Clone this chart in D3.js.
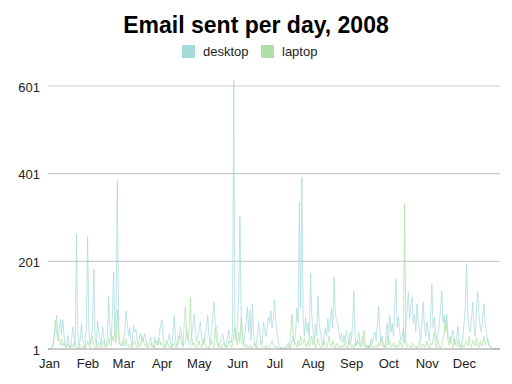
<!DOCTYPE html>
<html>
<head>
<meta charset="utf-8">
<script src="https://cdn.jsdelivr.net/npm/d3@7"></script>
<style>
  body { margin: 0; background: #fff; }
</style>
</head>
<body>
<div id="chart"></div>
<script>
// emails sent per day in 2008, one value per day (Jan 1 .. Dec 31)
var desktop = [
  // Jan
  2, 1, 3, 2, 8, 30, 67, 40, 20, 45, 69, 35, 68, 30, 10, 5, 32, 12, 3, 20, 51, 30, 10, 263, 40, 8, 20, 59, 25, 10, 3,
  // Feb
  60, 257, 40, 12, 30, 50, 184, 30, 8, 65, 40, 20, 10, 52, 35, 8, 5, 30, 120, 50, 20, 80, 177, 40, 90, 385, 50, 15, 10,
  // Mar
  8, 25, 40, 88, 60, 30, 50, 20, 8, 55, 40, 47, 20, 10, 5, 15, 30, 20, 35, 25, 8, 12, 18, 28, 10, 5, 28, 15, 20, 10, 40,
  // Apr
  55, 67, 30, 10, 5, 15, 20, 35, 15, 5, 40, 78, 20, 8, 30, 25, 52, 30, 10, 15, 20, 44, 25, 12, 10, 30, 50, 81, 45, 20,
  // May
  30, 45, 63, 30, 10, 20, 35, 50, 78, 30, 10, 40, 70, 108, 60, 52, 20, 8, 15, 25, 36, 20, 10, 5, 30, 44, 20, 15, 40, 614, 30,
  // Jun
  20, 60, 120, 304, 80, 30, 10, 40, 60, 97, 40, 90, 20, 104, 36, 10, 5, 30, 63, 40, 20, 15, 63, 44, 30, 50, 74, 60, 89, 50,
  // Jul
  70, 113, 67, 40, 14, 8, 3, 2, 5, 3, 2, 10, 15, 8, 5, 20, 30, 15, 40, 95, 60, 336, 94, 393, 80, 30, 74, 40, 60, 20, 174,
  // Aug
  81, 40, 20, 59, 30, 122, 59, 40, 20, 10, 35, 50, 30, 70, 40, 60, 95, 50, 166, 80, 67, 60, 40, 20, 36, 15, 32, 20, 44, 30, 10,
  // Sep
  40, 20, 60, 134, 30, 10, 21, 15, 8, 20, 30, 15, 5, 3, 5, 10, 3, 24, 15, 30, 40, 20, 60, 98, 40, 15, 30, 10, 5, 35,
  // Oct
  60, 20, 78, 40, 59, 30, 100, 160, 50, 74, 40, 20, 30, 50, 14, 60, 90, 131, 70, 100, 119, 60, 81, 40, 104, 60, 44, 20, 60, 108, 50,
  // Nov
  30, 63, 40, 20, 80, 149, 50, 74, 40, 20, 36, 60, 90, 134, 60, 78, 40, 81, 30, 21, 15, 30, 44, 20, 10, 30, 52, 20, 6, 10,
  // Dec
  30, 60, 100, 196, 80, 52, 40, 70, 108, 50, 30, 90, 132, 80, 52, 40, 70, 104, 60, 36, 20, 10, 5, 3, 2, 1, 1, 1, 1, 1, 1
];

var laptop = [
  // Jan
  1, 1, 2, 5, 10, 30, 50, 78, 30, 20, 10, 25, 8, 15, 5, 3, 12, 8, 4, 10, 6, 15, 5, 8, 3, 2, 10, 6, 3, 8, 5,
  // Feb
  10, 20, 8, 5, 15, 30, 10, 5, 3, 8, 15, 5, 3, 10, 20, 8, 5, 10, 25, 12, 8, 30, 20, 40, 15, 90, 30, 10, 8,
  // Mar
  15, 20, 8, 25, 10, 5, 12, 8, 3, 15, 20, 10, 5, 8, 30, 37, 15, 25, 10, 5, 8, 3, 10, 15, 5, 8, 3, 20, 10, 15, 25,
  // Apr
  10, 15, 5, 3, 8, 20, 12, 5, 8, 3, 10, 15, 5, 3, 12, 25, 30, 10, 5, 60, 98, 40, 20, 50, 119, 30, 10, 15, 8, 5,
  // May
  10, 20, 8, 5, 15, 25, 10, 5, 8, 3, 10, 20, 15, 5, 52, 20, 10, 5, 8, 3, 10, 15, 5, 3, 8, 20, 12, 5, 10, 30, 50,
  // Jun
  20, 10, 40, 15, 74, 20, 8, 5, 12, 8, 3, 10, 5, 3, 8, 15, 5, 3, 6, 10, 20, 8, 5, 3, 10, 5, 3, 8, 12, 20,
  // Jul
  10, 5, 8, 3, 5, 2, 3, 1, 4, 2, 1, 5, 8, 3, 40, 81, 30, 10, 15, 5, 20, 8, 30, 10, 15, 25, 10, 5, 20, 8, 15,
  // Aug
  30, 10, 20, 5, 8, 25, 12, 5, 3, 10, 20, 8, 5, 15, 30, 10, 5, 20, 8, 3, 15, 10, 5, 8, 3, 10, 5, 20, 8, 3, 10,
  // Sep
  20, 5, 10, 3, 15, 8, 20, 40, 10, 5, 8, 44, 20, 5, 10, 3, 8, 15, 5, 3, 8, 10, 5, 15, 8, 25, 12, 5, 10, 3,
  // Oct
  30, 10, 20, 5, 8, 15, 5, 10, 3, 8, 20, 10, 5, 15, 333, 20, 5, 10, 8, 3, 15, 10, 5, 8, 3, 10, 20, 5, 8, 12, 5,
  // Nov
  10, 20, 8, 3, 15, 10, 25, 40, 10, 5, 20, 8, 3, 10, 25, 40, 67, 50, 20, 10, 30, 15, 5, 25, 10, 8, 20, 5, 10, 3,
  // Dec
  10, 5, 15, 20, 8, 30, 10, 5, 20, 15, 8, 25, 10, 5, 20, 8, 15, 30, 10, 18, 25, 15, 8, 5, 3, 1, 1, 1, 1, 1, 1
];

var yTicks = [1, 201, 401, 601];
var seriesNames = ['desktop', 'laptop'];
var seriesColors = ['#a3dada', '#addfa4'];
var swatchColors = ['#a6dada', '#b0dda8'];

var width = 512, height = 384;
var margin = {top: 80, right: 12, bottom: 35, left: 48};

var days = desktop.map(function(d, i) { return new Date(2008, 0, 1 + i); });

var svg = d3.select('#chart').append('svg')
    .attr('width', width)
    .attr('height', height)
    .style('font-family', 'Arial, "Liberation Sans", sans-serif');

var x = d3.scaleTime()
    .domain([new Date(2008, 0, 1), new Date(2008, 11, 31)])
    .range([margin.left, width - margin.right]);

var y = d3.scaleLinear()
    .domain([1, 601])
    .range([349, 86]);

// title
svg.append('text')
    .attr('x', 256)
    .attr('y', 33)
    .attr('text-anchor', 'middle')
    .attr('font-size', '23px')
    .attr('font-weight', 'bold')
    .attr('fill', '#000')
    .text('Email sent per day, 2008');

// legend
var legend = svg.append('g').attr('transform', 'translate(182, 45)');
var legX = [0, 79];
seriesNames.forEach(function(name, i) {
  legend.append('rect')
      .attr('x', legX[i])
      .attr('y', 0)
      .attr('width', 13)
      .attr('height', 13)
      .attr('fill', swatchColors[i]);
  legend.append('text')
      .attr('x', legX[i] + 21)
      .attr('y', 11)
      .attr('font-size', '13px')
      .attr('fill', '#222')
      .text(name);
});

// gridlines
svg.append('g')
    .selectAll('line')
    .data(yTicks.slice(1))
    .join('line')
    .attr('x1', margin.left)
    .attr('x2', width - margin.right)
    .attr('y1', function(d) { return y(d); })
    .attr('y2', function(d) { return y(d); })
    .attr('stroke', '#cccccc')
    .attr('stroke-width', 1.2);

// y axis labels
var yAxis = svg.append('g')
    .attr('transform', 'translate(' + (margin.left - 8) + ',0)')
    .call(d3.axisLeft(y).tickValues(yTicks).tickSize(0).tickPadding(0));
yAxis.select('.domain').remove();
yAxis.selectAll('text')
    .attr('font-size', '13px')
    .attr('font-family', 'Arial, "Liberation Sans", sans-serif')
    .attr('fill', '#222')
    .attr('dy', '0.4em');

// lines
var line = d3.line()
    .x(function(d, i) { return x(days[i]); })
    .y(function(d) { return y(d); });

[desktop, laptop].forEach(function(series, i) {
  svg.append('path')
      .datum(series)
      .attr('fill', 'none')
      .attr('stroke', seriesColors[i])
      .attr('stroke-width', 0.8)
      .attr('stroke-opacity', 0.9)
      .attr('d', line);
});

// baseline
svg.append('line')
    .attr('x1', margin.left)
    .attr('x2', width - margin.right)
    .attr('y1', y(1))
    .attr('y2', y(1))
    .attr('stroke', '#999999')
    .attr('stroke-width', 1);

// x axis month labels
var xAxis = svg.append('g')
    .attr('transform', 'translate(0,' + y(1) + ')')
    .call(d3.axisBottom(x).ticks(d3.timeMonth.every(1)).tickFormat(d3.timeFormat('%b')).tickSize(0).tickPadding(10));
xAxis.select('.domain').remove();
xAxis.selectAll('text')
    .attr('font-size', '13px')
    .attr('font-family', 'Arial, "Liberation Sans", sans-serif')
    .attr('fill', '#222')
    .attr('dx', '1');
</script>
</body>
</html>
